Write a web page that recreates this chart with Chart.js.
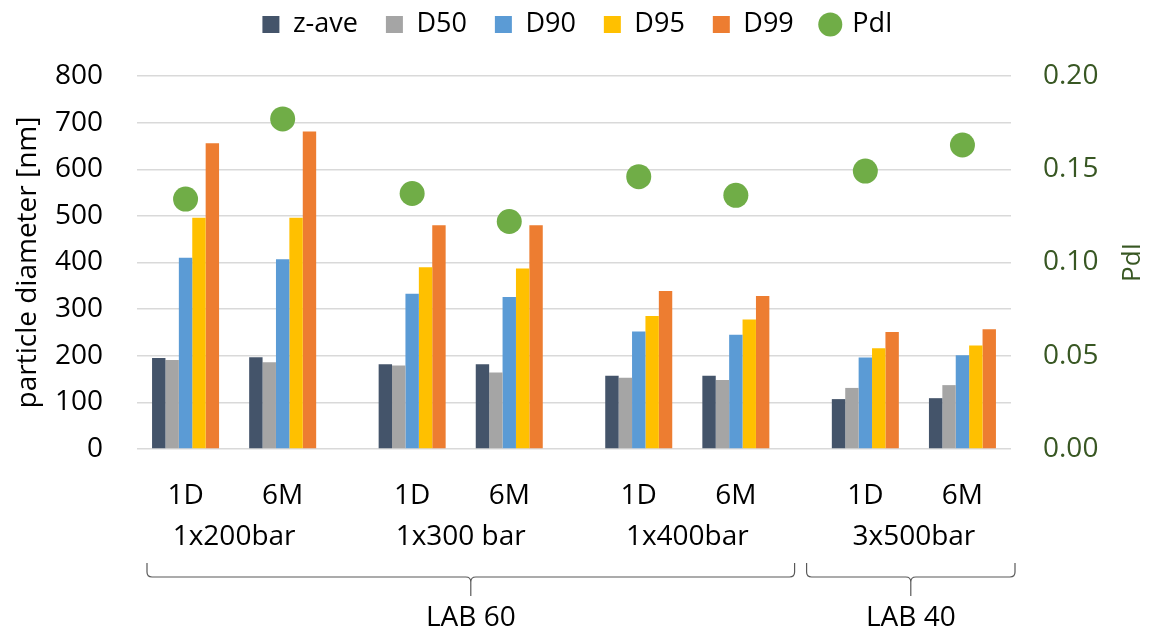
<!DOCTYPE html>
<html>
<head>
<meta charset="utf-8">
<title>Particle size distribution</title>
<script src="https://cdn.jsdelivr.net/npm/chart.js@4.4.1/dist/chart.umd.min.js"></script>
<style>
  html, body { margin: 0; padding: 0; background: #fff; }
  #wrap { width: 1155px; height: 635px; }
</style>
</head>
<body>
<div id="wrap"><canvas id="sizeChart" width="1155" height="635"></canvas></div>
<script>
// Storage time per sample and where it sits on the x axis (groups of two, wider gap between groups)
const samples = ["1D", "6M", "1D", "6M", "1D", "6M", "1D", "6M"];
const sampleX = [0, 3, 7, 10, 14, 17, 21, 24];
const pressures = ["1x200bar", "1x300 bar", "1x400bar", "3x500bar"];
const labs = ["LAB 60", "LAB 40"];
const labSamples = [[0, 5], [6, 7]]; // first/last sample index covered by each lab

// particle diameter [nm]
const zAve = [195, 197, 182, 182, 157, 157, 107, 109];
const d50  = [191, 186, 179, 164, 153, 148, 131, 137];
const d90  = [410, 407, 333, 326, 252, 245, 196, 201];
const d95  = [496, 496, 390, 387, 285, 278, 216, 222];
const d99  = [656, 681, 480, 480, 339, 328, 251, 257];
// polydispersity index
const pdi  = [0.134, 0.177, 0.137, 0.122, 0.146, 0.136, 0.149, 0.163];

const FONT = "'Open Sans', sans-serif";
const GREEN_TEXT = "#385723";
Chart.defaults.font.family = FONT;
Chart.defaults.color = "#000";

function points(values) {
  return values.map((v, i) => ({ x: sampleX[i], y: v }));
}

function barSet(label, values, color) {
  return {
    label: label,
    data: points(values),
    backgroundColor: color,
    borderWidth: 0,
    pointStyle: "rect",
    categoryPercentage: 0.69,
    barPercentage: 1.0,
    order: 1
  };
}

// legend sits higher than the default layout allows, leave room below it
const legendSpace = {
  id: "legendSpace",
  beforeLayout(chart) {
    const lg = chart.legend;
    if (!lg || lg._spaced) return;
    const fit = lg.fit;
    lg.fit = function () {
      fit.call(this);
      this.height += 28;
    };
    lg._spaced = true;
  }
};

// pressure group names, lab braces and the right axis title
const groupLabels = {
  id: "groupLabels",
  afterDraw(chart) {
    const ctx = chart.ctx;
    const x = chart.scales.x;
    const y1 = chart.scales.y1;
    ctx.save();
    ctx.fillStyle = "#000";
    ctx.font = "28px " + FONT;
    ctx.textAlign = "center";
    ctx.textBaseline = "alphabetic";

    pressures.forEach((p, i) => {
      const cx = (x.getPixelForValue(sampleX[2 * i]) + x.getPixelForValue(sampleX[2 * i + 1])) / 2;
      ctx.fillText(p, cx, 545);
    });

    // braces
    const yTop = 563, yLine = 577, yTip = 596, r = 5;
    ctx.strokeStyle = "#595959";
    ctx.lineWidth = 1.2;
    labs.forEach((lab, i) => {
      const [a, b] = labSamples[i];
      let left, right;
      if (i === 0) left = x.left + 10;
      else left = (x.getPixelForValue(sampleX[a - 1]) + x.getPixelForValue(sampleX[a])) / 2 + 6;
      if (i === labs.length - 1) right = x.right + 4;
      else right = (x.getPixelForValue(sampleX[b]) + x.getPixelForValue(sampleX[b + 1])) / 2 - 6;
      const mid = (left + right) / 2;

      ctx.beginPath();
      ctx.moveTo(left, yTop);
      ctx.lineTo(left, yLine - r);
      ctx.quadraticCurveTo(left, yLine, left + r, yLine);
      ctx.lineTo(mid - r, yLine);
      ctx.quadraticCurveTo(mid, yLine, mid, yLine + r);
      ctx.lineTo(mid, yTip);
      ctx.moveTo(mid, yLine + r);
      ctx.quadraticCurveTo(mid, yLine, mid + r, yLine);
      ctx.lineTo(right - r, yLine);
      ctx.quadraticCurveTo(right, yLine, right, yLine - r);
      ctx.lineTo(right, yTop);
      ctx.stroke();

      ctx.fillText(lab, mid, 626);
    });

    // PdI axis title, reading bottom to top
    ctx.translate(1133, (y1.top + y1.bottom) / 2);
    ctx.rotate(-Math.PI / 2);
    ctx.fillStyle = GREEN_TEXT;
    ctx.font = "26px " + FONT;
    ctx.textBaseline = "middle";
    ctx.fillText("PdI", 0, 0);
    ctx.restore();
  }
};

const chart = new Chart(document.getElementById("sizeChart"), {
  type: "bar",
  data: {
    datasets: [
      barSet("z-ave", zAve, "#44546A"),
      barSet("D50", d50, "#A5A5A5"),
      barSet("D90", d90, "#5B9BD5"),
      barSet("D95", d95, "#FFC000"),
      barSet("D99", d99, "#ED7D31"),
      {
        type: "line",
        label: "PdI",
        data: points(pdi),
        yAxisID: "y1",
        showLine: false,
        pointStyle: "circle",
        pointRadius: 12.5,
        pointHoverRadius: 12.5,
        backgroundColor: "#70AD47",
        borderColor: "#70AD47",
        borderWidth: 0,
        order: 0
      }
    ]
  },
  options: {
    responsive: false,
    animation: false,
    devicePixelRatio: 1,
    layout: { padding: { top: -17, left: 0, right: 0, bottom: 0 } },
    plugins: {
      tooltip: { enabled: false },
      legend: {
        position: "top",
        labels: {
          usePointStyle: true,
          boxWidth: 17,
          boxHeight: 17,
          padding: 28,
          color: "#000",
          font: { size: 27 },
          sort: (a, b) => a.datasetIndex - b.datasetIndex
        }
      }
    },
    scales: {
      x: {
        type: "linear",
        min: -1.5,
        max: 25.5,
        offset: false,
        grid: { display: false, drawTicks: false, offset: false },
        border: { display: false },
        afterBuildTicks: s => { s.ticks = sampleX.map(v => ({ value: v })); },
        afterFit: s => { s.height = 186; },
        ticks: {
          autoSkip: false,
          maxRotation: 0,
          padding: 30,
          color: "#000",
          font: { size: 28 },
          callback: (v, i) => samples[i]
        }
      },
      y: {
        position: "left",
        min: 0,
        max: 800,
        grid: { color: "#D9D9D9", lineWidth: 1.5, drawTicks: false },
        border: { display: false },
        afterFit: s => { s.width = 137; },
        ticks: { stepSize: 100, padding: 34, color: "#000", font: { size: 28 } },
        title: {
          display: true,
          text: "particle diameter [nm]",
          color: "#000",
          font: { size: 28 },
          padding: { top: 11, bottom: 0 }
        }
      },
      y1: {
        position: "right",
        min: 0,
        max: 0.2,
        grid: { display: false, drawTicks: false },
        border: { display: false },
        afterFit: s => { s.width = 144; },
        ticks: {
          stepSize: 0.05,
          padding: 32,
          color: GREEN_TEXT,
          font: { size: 28 },
          callback: v => v.toFixed(2)
        }
      }
    }
  },
  plugins: [legendSpace, groupLabels]
});
</script>
</body>
</html>
